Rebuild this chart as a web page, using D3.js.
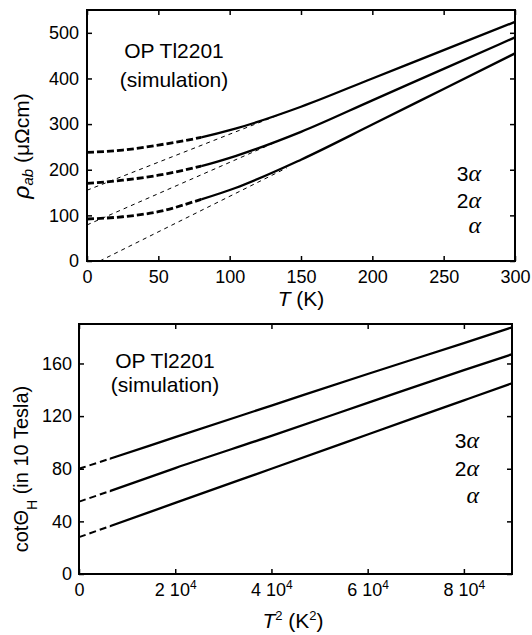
<!DOCTYPE html>
<html>
<head>
<meta charset="utf-8">
<script src="https://cdn.jsdelivr.net/npm/d3@7"></script>
<style>
  body { margin: 0; background: #fff; }
  svg text { font-family: "Liberation Sans", Arial, Helvetica, sans-serif; fill: #000; }
</style>
</head>
<body>
<svg id="fig" width="532" height="635"></svg>
<script>
// TOP PANEL: rho_ab vs T
var tempK = [0, 25, 50, 80, 104, 150, 200, 250, 300];
var rho3a = [238, 243, 254, 271, 290, 338, 400, 462, 524];
var rho2a = [170, 177, 188, 208, 230, 283, 352, 421, 490];
var rho1a = [92, 97, 108, 135, 160, 222, 299, 377, 455];
// linear high-T extrapolations (thin dashed)
var fitT3 = [0, 140], fit3a = [155, 327];
var fitT2 = [0, 140], fit2a = [79, 271];
var fitT1 = [9, 140], fit1a = [0, 204];
var tTicks = [0, 50, 100, 150, 200, 250, 300];
var rhoTicks = [0, 100, 200, 300, 400, 500];

// BOTTOM PANEL: cot(Theta_H) vs T^2
var tSq = [0, 6400, 20000, 40000, 60000, 80000, 90000];
var cot3a = [80, 87.6, 104, 128, 152, 175.5, 187.5];
var cot2a = [55, 63, 80.5, 105, 130, 155, 167];
var cot1a = [28, 36.3, 54, 80, 106, 132, 145];
var tSqTicks = [0, 20000, 40000, 60000, 80000];
var tSqLabels = ["0", "2 10", "4 10", "6 10", "8 10"];
var cotTicks = [0, 40, 80, 120, 160];

var curvePrefix = ["3", "2", ""];

var svg = d3.select("#fig");
var FONT = "'Liberation Sans', Arial, Helvetica, sans-serif";

function zip(a, b){ return a.map(function(v, i){ return [v, b[i]]; }); }

// frame + inward ticks on all four sides
function drawFrame(x, y, xt, yt, xFmt, yFmt, xPad, yPad){
  var x0 = x.range()[0], x1 = x.range()[1], y0 = y.range()[0], y1 = y.range()[1];
  var axes = [
    {a: d3.axisBottom(x).tickValues(xt).tickFormat(xFmt).tickPadding(xPad), t: "translate(0," + y0 + ")"},
    {a: d3.axisTop(x).tickValues(xt).tickFormat(""), t: "translate(0," + y1 + ")"},
    {a: d3.axisLeft(y).tickValues(yt).tickFormat(yFmt).tickPadding(yPad), t: "translate(" + x0 + ",0)"},
    {a: d3.axisRight(y).tickValues(yt).tickFormat(""), t: "translate(" + x1 + ",0)"}
  ];
  var gs = axes.map(function(ax){
    var g = svg.append("g").attr("transform", ax.t).call(ax.a.tickSize(-5));
    g.select(".domain").remove();
    g.selectAll("line").attr("stroke", "#000").attr("stroke-width", 1.5);
    g.selectAll("text").attr("font-size", 18).attr("font-family", FONT);
    return g;
  });
  svg.append("rect").attr("x", x0).attr("y", y1).attr("width", x1 - x0).attr("height", y0 - y1)
    .attr("fill", "none").attr("stroke", "#000").attr("stroke-width", 2);
  return gs;
}

function addClip(id, xa, xb, ya, yb){
  svg.append("clipPath").attr("id", id).append("rect")
    .attr("x", xa).attr("y", ya).attr("width", xb - xa).attr("height", yb - ya);
}

function curveLabels(xRight, baselines){
  curvePrefix.forEach(function(p, i){
    var t = svg.append("text").attr("x", xRight).attr("y", baselines[i])
      .attr("text-anchor", "end").attr("font-size", 21);
    t.append("tspan").text(p);
    t.append("tspan").attr("font-style", "italic").attr("font-family", "'Liberation Serif', serif").attr("font-size", 24).text("α");
  });
}

function sampleTitle(cx, y1, y2){
  svg.append("text").attr("x", cx).attr("y", y1).attr("text-anchor", "middle").attr("font-size", 21).text("OP Tl2201");
  svg.append("text").attr("x", cx).attr("y", y2).attr("text-anchor", "middle").attr("font-size", 21).text("(simulation)");
}

///////////////////////////////////////////////////////////////////
// TOP PANEL
var xT = d3.scaleLinear().domain([0, 300]).range([87, 515]);
var yR = d3.scaleLinear().domain([0, 550]).range([261, 10]);
drawFrame(xT, yR, tTicks, rhoTicks, d3.format("d"), d3.format("d"), 9, 8);

addClip("lowT", 80, xT(80), 0, 270);
addClip("highT", xT(80), 520, 0, 270);

var lineT = d3.line().x(function(d){ return xT(d[0]); }).y(function(d){ return yR(d[1]); })
  .curve(d3.curveMonotoneX);

// thin dashed extrapolations
[zip(fitT3, fit3a), zip(fitT2, fit2a), zip(fitT1, fit1a)].forEach(function(pts){
  svg.append("path").attr("d", lineT(pts)).attr("fill", "none")
    .attr("stroke", "#000").attr("stroke-width", 1).attr("stroke-dasharray", "4,4");
});

[rho3a, rho2a, rho1a].forEach(function(vals){
  var pts = zip(tempK, vals);
  svg.append("path").attr("d", lineT(pts)).attr("clip-path", "url(#lowT)")
    .attr("fill", "none").attr("stroke", "#000").attr("stroke-width", 2.8).attr("stroke-dasharray", "7,3");
  svg.append("path").attr("d", lineT(pts)).attr("clip-path", "url(#highT)")
    .attr("fill", "none").attr("stroke", "#000").attr("stroke-width", 2.3);
});

sampleTitle(174, 58, 87);
curveLabels(481, [181, 208, 233]);

// axis titles
var xTitle1 = svg.append("text").attr("x", 301).attr("y", 306).attr("text-anchor", "middle").attr("font-size", 21);
xTitle1.append("tspan").attr("font-style", "italic").text("T");
xTitle1.append("tspan").text(" (K)");

var yTitle1 = svg.append("text").attr("transform", "translate(29,146) rotate(-90)")
  .attr("text-anchor", "middle").attr("font-size", 21);
yTitle1.append("tspan").attr("font-style", "italic").attr("font-size", 23).text("ρ");
yTitle1.append("tspan").attr("font-style", "italic").attr("font-size", 15).attr("dy", 4).text("ab");
yTitle1.append("tspan").attr("dy", -4).text(" (μΩcm)");

///////////////////////////////////////////////////////////////////
// BOTTOM PANEL
var xS = d3.scaleLinear().domain([0, 90000]).range([79, 512]);
var yC = d3.scaleLinear().domain([0, 190]).range([574, 324]);
var gsB = drawFrame(xS, yC, tSqTicks, cotTicks, function(d, i){ return tSqLabels[i]; }, d3.format("d"), 9, 7);

// superscript exponent on the T^2 tick labels
gsB[0].selectAll(".tick text").each(function(d, i){
  if (i === 0) return;
  d3.select(this).append("tspan").attr("font-size", 12).attr("dy", -7).text("4");
});

addClip("lowS", 70, xS(6400), 300, 590);
addClip("highS", xS(6400), 520, 300, 590);

var lineS = d3.line().x(function(d){ return xS(d[0]); }).y(function(d){ return yC(d[1]); })
  .curve(d3.curveMonotoneX);

[cot3a, cot2a, cot1a].forEach(function(vals){
  var pts = zip(tSq, vals);
  svg.append("path").attr("d", lineS(pts)).attr("clip-path", "url(#lowS)")
    .attr("fill", "none").attr("stroke", "#000").attr("stroke-width", 2).attr("stroke-dasharray", "7,4");
  svg.append("path").attr("d", lineS(pts)).attr("clip-path", "url(#highS)")
    .attr("fill", "none").attr("stroke", "#000").attr("stroke-width", 2.3);
});

sampleTitle(165, 368, 392);
curveLabels(479, [448, 476, 503]);

var xTitle2 = svg.append("text").attr("x", 293).attr("y", 628).attr("text-anchor", "middle").attr("font-size", 21);
xTitle2.append("tspan").attr("font-style", "italic").text("T");
xTitle2.append("tspan").attr("font-size", 13).attr("dy", -8).text("2");
xTitle2.append("tspan").attr("dy", 8).text(" (K");
xTitle2.append("tspan").attr("font-size", 13).attr("dy", -8).text("2");
xTitle2.append("tspan").attr("dy", 8).text(")");

var yTitle2 = svg.append("text").attr("transform", "translate(28,469) rotate(-90)")
  .attr("text-anchor", "middle").attr("font-size", 20);
yTitle2.append("tspan").text("cotΘ");
yTitle2.append("tspan").attr("font-size", 14).attr("dy", 9).text("H");
yTitle2.append("tspan").attr("dy", -9).text(" (in 10 Tesla)");
</script>
</body>
</html>
